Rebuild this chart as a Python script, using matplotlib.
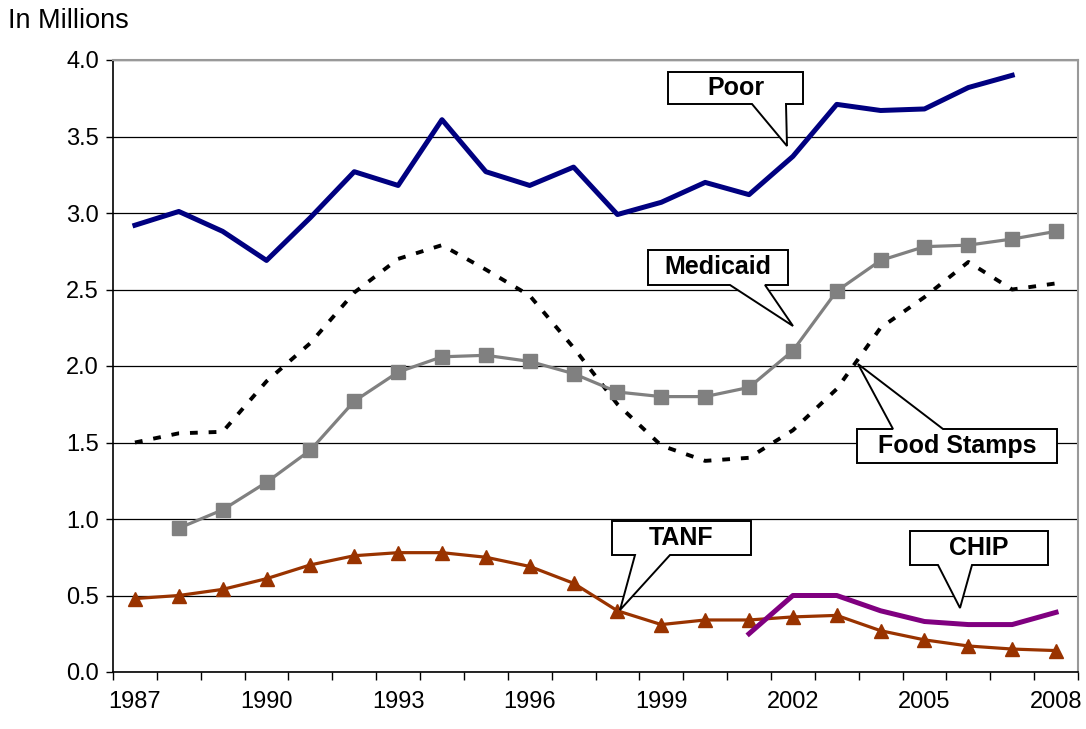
import numpy as np
import matplotlib
matplotlib.use("Agg")
import matplotlib.pyplot as plt
from matplotlib.patches import Polygon

plt.rcParams['font.family'] = ['Liberation Sans', 'DejaVu Sans']

years = list(range(1987, 2009))
poor = [2.92, 3.01, 2.88, 2.69, 2.97, 3.27, 3.18, 3.61, 3.27, 3.18, 3.30,
        2.99, 3.07, 3.20, 3.12, 3.37, 3.71, 3.67, 3.68, 3.82, 3.90, None]
medicaid = [None, 0.94, 1.06, 1.24, 1.45, 1.77, 1.96, 2.06, 2.07, 2.03, 1.95,
            1.83, 1.80, 1.80, 1.86, 2.10, 2.49, 2.69, 2.78, 2.79, 2.83, 2.88]
food_stamps = [1.50, 1.56, 1.57, 1.90, 2.15, 2.48, 2.70, 2.79, 2.63, 2.46, 2.12,
               1.75, 1.48, 1.38, 1.40, 1.58, 1.85, 2.25, 2.45, 2.68, 2.50, 2.54]
tanf = [0.48, 0.50, 0.54, 0.61, 0.70, 0.76, 0.78, 0.78, 0.75, 0.69, 0.58,
        0.40, 0.31, 0.34, 0.34, 0.36, 0.37, 0.27, 0.21, 0.17, 0.15, 0.14]
chip = [None] * 14 + [0.25, 0.50, 0.50, 0.40, 0.33, 0.31, 0.31, 0.39]


def arr(v):
    return np.array([np.nan if a is None else a for a in v], dtype=float)


W, H = 1086, 729
fig = plt.figure(figsize=(W / 100, H / 100), dpi=100)
ax = fig.add_axes([113 / W, 1 - 672 / H, (1078 - 113) / W, (672 - 60) / H])

x = np.arange(len(years))
ax.plot(x, arr(food_stamps), color='black', lw=2.8, ls=(0, (2.0, 2.8)), zorder=3)
ax.plot(x, arr(medicaid), color='#808080', lw=2.3, marker='s', ms=10.5, zorder=4)
ax.plot(x, arr(tanf), color='#993300', lw=2.3, marker='^', ms=9.5, zorder=4)
ax.plot(x, arr(chip), color='#800080', lw=3.6, zorder=5)
ax.plot(x, arr(poor), color='#000080', lw=3.6, zorder=5)

ax.set_xlim(-0.5, len(years) - 0.5)
ax.set_ylim(0, 4.0)
ax.set_yticks(np.arange(0, 4.01, 0.5))
ax.set_yticklabels(['%.1f' % v for v in np.arange(0, 4.01, 0.5)], fontsize=17)
ax.yaxis.grid(True, color='black', lw=0.9)
ax.set_axisbelow(True)

ax.set_xticks(np.arange(-0.5, len(years), 1.0))
ax.set_xticklabels([])
ax.set_xticks(x[::3], minor=True)
ax.set_xticklabels([str(y) for y in years[::3]], minor=True, fontsize=17)
ax.tick_params(axis='x', which='major', length=6, width=1, direction='out')
ax.tick_params(axis='x', which='minor', length=0, pad=14)
ax.tick_params(axis='y', length=5, width=1, direction='out', pad=5)

for s in ['top', 'right']:
    ax.spines[s].set_color('#999999')
    ax.spines[s].set_linewidth(1.5)
for s in ['left', 'bottom']:
    ax.spines[s].set_linewidth(1.2)

fig.text(8 / W, 1 - 21 / H, 'In Millions', fontsize=19.5, va='center', ha='left')


def px(pts):
    return [(a / W, 1 - b / H) for a, b in pts]


def callout(box, base, tip, label, side='bottom'):
    x0, y0, x1, y1 = box
    b0, b1 = base
    if side == 'bottom':
        pts = [(x0, y0), (x1, y0), (x1, y1), (b1, y1), tip, (b0, y1), (x0, y1)]
    else:
        pts = [(x0, y0), (b0, y0), tip, (b1, y0), (x1, y0), (x1, y1), (x0, y1)]
    fig.patches.append(Polygon(px(pts), closed=True, transform=fig.transFigure,
                               facecolor='white', edgecolor='black', lw=1.4, zorder=10))
    fig.text((x0 + x1) / 2 / W, 1 - (y0 + y1) / 2 / H, label, fontsize=18,
             fontweight='bold', ha='center', va='center', zorder=11,
             family=['Liberation Sans Narrow', 'Liberation Sans', 'DejaVu Sans'])


callout((668, 72, 803, 104), (752, 786), (787, 146), 'Poor')
callout((648, 250, 788, 285), (730, 765), (793, 326), 'Medicaid')
callout((857, 429, 1057, 463), (893, 943), (858, 364), 'Food Stamps', side='top')
callout((612, 521, 751, 555), (635, 670), (620, 610), 'TANF')
callout((910, 531, 1048, 565), (938, 972), (960, 608), 'CHIP')

fig.savefig('out.png', dpi=100)
